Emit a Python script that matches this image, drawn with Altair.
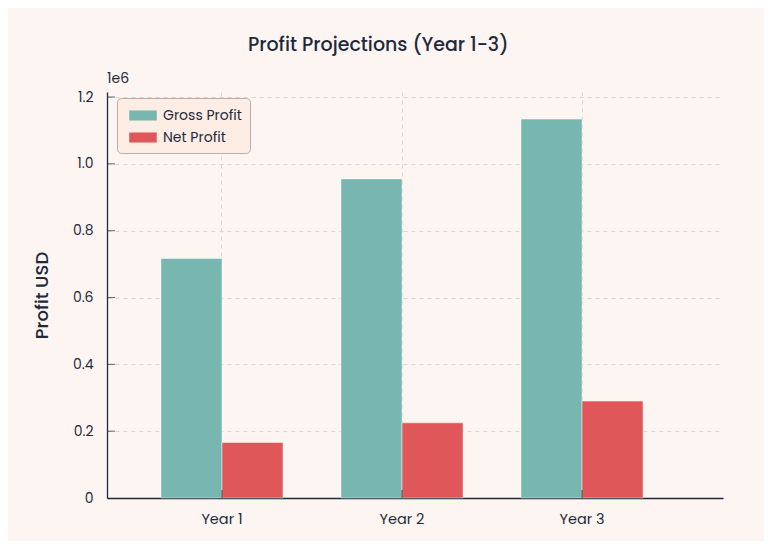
import altair as alt
import pandas as pd

years = ["Year 1", "Year 2", "Year 3"]
metrics = ["Gross Profit", "Net Profit"]
gross_profit = [717000, 955000, 1134000]
net_profit = [166000, 225000, 290000]
colors = ["#78b6b0", "#e0575a"]
y_ticks = [0, 200000, 400000, 600000, 800000, 1000000, 1200000]

rows = []
for i, y in enumerate(years):
    rows.append({"Year": y, "Metric": metrics[0], "Profit": gross_profit[i]})
    rows.append({"Year": y, "Metric": metrics[1], "Profit": net_profit[i]})
df = pd.DataFrame(rows)

FONT = "Poppins, Inter, sans-serif"
DARK = "#1e2a3b"
GRID = "#ddd3cf"

x_enc = alt.X("Year:N", sort=years,
              scale=alt.Scale(paddingInner=0.322, paddingOuter=0.372, align=0.403),
              axis=alt.Axis(title=None, labelAngle=0, labelFontSize=14.5, labelColor=DARK,
                            labelFont=FONT, labelPadding=14, ticks=False,
                            domainColor=DARK, domainWidth=1.3,
                            grid=True, gridColor=GRID, gridDash=[4, 4], gridWidth=1))
y_scale = alt.Scale(domain=[0, 1215000], nice=False)

bars = alt.Chart(df).mark_bar(stroke="#ffffff", strokeOpacity=0.45, strokeWidth=1).encode(
    x=x_enc,
    xOffset=alt.XOffset("Metric:N", sort=metrics),
    y=alt.Y("Profit:Q", scale=y_scale,
            axis=alt.Axis(title="Profit USD", titleFontSize=18, titleFont=FONT,
                          titleFontWeight=500, titleColor=DARK, titlePadding=21,
                          values=y_ticks,
                          labelExpr="datum.value == 0 ? '0' : format(datum.value / 1000000, '.1f')",
                          labelFontSize=14, labelColor=DARK, labelFont=FONT, labelPadding=14,
                          ticks=False, domainColor=DARK, domainWidth=1.3,
                          grid=True, gridColor=GRID, gridDash=[4, 4], gridWidth=1)),
    color=alt.Color("Metric:N", sort=metrics,
                    scale=alt.Scale(domain=metrics, range=colors),
                    legend=alt.Legend(title=None, orient="none", legendX=10, legendY=6,
                                      fillColor="#fdede5", strokeColor="#b9aea9",
                                      cornerRadius=4, padding=8,
                                      symbolType="M-1.45,-0.53H1.45V0.53H-1.45Z", symbolSize=361,
                                      symbolOffset=8.5,
                                      symbolStrokeWidth=0, symbolOpacity=1,
                                      labelFontSize=14, labelColor=DARK, labelFont=FONT,
                                      labelOffset=10.5, rowPadding=5)),
)

y_tick_df = pd.DataFrame({"Profit": y_ticks[1:]})
y_ticks_layer = alt.Chart(y_tick_df).mark_rule(color=DARK, opacity=0.7, strokeWidth=1).encode(
    y=alt.Y("Profit:Q", scale=y_scale), x=alt.value(0), x2=alt.value(8)
)

x_tick_df = pd.DataFrame({"Year": years})
x_ticks_layer = alt.Chart(x_tick_df).mark_rule(color=DARK, opacity=0.8, strokeWidth=1).encode(
    x=alt.X("Year:N", sort=years, bandPosition=0.5), y=alt.value(406), y2=alt.value(398)
)

offset_label = alt.Chart(pd.DataFrame({"t": ["1e6"]})).mark_text(
    align="left", baseline="middle", fontSize=14, font=FONT, color=DARK
).encode(text="t:N", x=alt.value(0), y=alt.value(-13))

chart = (bars + y_ticks_layer + x_ticks_layer + offset_label).properties(
    width=616, height=406,
    autosize=alt.AutoSizeParams(type="none"),
    padding={"left": 99, "top": 84, "right": 41, "bottom": 43},
    background="#fdf5f2",
    title=alt.TitleParams("Profit Projections (Year 1-3)", fontSize=19, font=FONT,
                          fontWeight=500, color=DARK, anchor="middle", frame="bounds",
                          offset=17),
).configure_view(stroke=None)

chart.save("out.html", embed_options={"renderer": "svg", "actions": False})
